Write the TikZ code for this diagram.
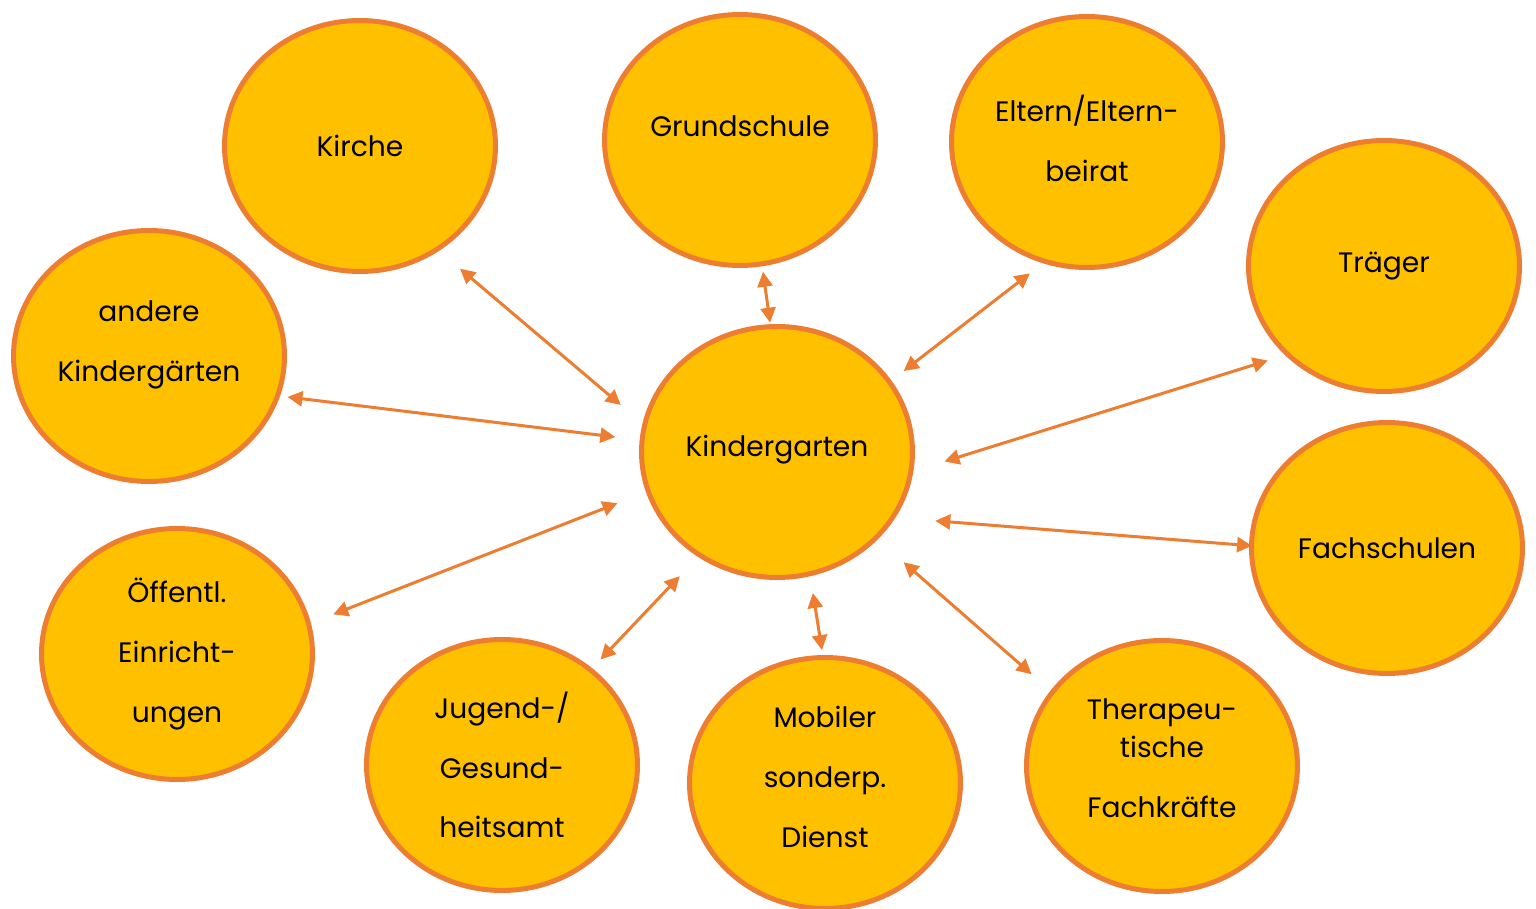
\documentclass[tikz,border=0pt]{standalone}
\usepackage{fontspec}
\setmainfont{Poppins}
\usepackage{xcolor}
\usetikzlibrary{arrows.meta,shapes.geometric}
\definecolor{goldfill}{HTML}{FFC000}
\definecolor{orangeline}{HTML}{ED7D31}

\begin{document}
\begin{tikzpicture}[x=0.02cm, y=-0.02cm,
	partner/.style={ellipse, draw=orangeline, fill=goldfill, line width=0.1cm,
		minimum width=5.42cm, minimum height=5.02cm, inner sep=0pt, align=center,
		font=\fontsize{16}{34}\selectfont},
	link/.style={{Triangle[length=0.3cm,width=0.3cm]}-{Triangle[length=0.3cm,width=0.3cm]},
		draw=orangeline, line width=0.06cm}]
	\useasboundingbox (0,0) rectangle (1536,909);
	% centre
	\node[partner, text depth=7pt] (kg) at (777,452) {Kindergarten};
	% partners
	\node[partner] (kirche) at (360,146) {Kirche};
	\node[partner, text depth=16pt] (grund) at (740,140) {Grundschule};
	\node[partner, text depth=4pt] (eltern) at (1087,142) {Eltern/Eltern-\\beirat};
	\node[partner] (traeger) at (1384,266) {Träger};
	\node[partner, text depth=17pt] (andere) at (149,356) {andere\\Kindergärten};
	\node[partner] (fach) at (1387,548) {Fachschulen};
	\node[partner] (oeff) at (177,654) {Öffentl.\\Einricht-\\ungen};
	\node[partner] (jugend) at (502,765) {Jugend-/\\Gesund-\\heitsamt};
	\node[partner, text depth=7pt] (mobil) at (825,783) {Mobiler\\sonderp.\\Dienst};
	\node[partner, text depth=9pt] (thera) at (1162,766) {Therapeu-\\[-12.5pt]tische\\Fachkräfte};
	% links
	\draw[link, shorten <=0.55cm, shorten >=0.57cm] (kirche.-53.8) -- (kg.168.8);
	\draw[link, shorten <=0.11cm, shorten >=0.03cm] (grund.-80.5) -- (kg.93.2);
	\draw[link, shorten <=0.33cm, shorten >=0.31cm] (eltern.-110.3) -- (kg.32.7);
	\draw[link, shorten <=0.36cm, shorten >=0.65cm] (traeger.-138.9) -- (kg.-8.7);
	\draw[link, shorten <=0.15cm, shorten >=0.49cm] (andere.-17.7) -- (kg.175.3);
	\draw[link, shorten <=-0.06cm, shorten >=0.8cm] (fach.179.4) -- (kg.-29.1);
	\draw[link, shorten <=0.48cm, shorten >=0.61cm] (oeff.13.7) -- (kg.-163.4);
	\draw[link, shorten <=0.24cm, shorten >=0.53cm] (jugend.47.3) -- (kg.-127.4);
	\draw[link, shorten <=0.1cm, shorten >=0.34cm] (mobil.91.1) -- (kg.-75.6);
	\draw[link, shorten <=0.5cm, shorten >=0.69cm] (thera.146.3) -- (kg.-41.4);
\end{tikzpicture}
\end{document}
